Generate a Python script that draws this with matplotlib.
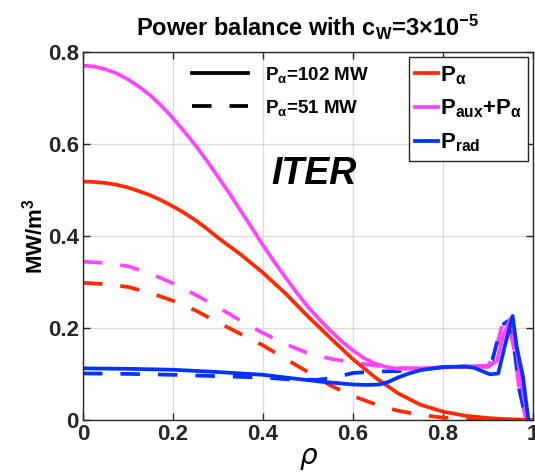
import matplotlib
matplotlib.use("Agg")
import matplotlib.pyplot as plt
from matplotlib.lines import Line2D

plt.rcParams['font.family'] = ['Liberation Sans', 'DejaVu Sans']
plt.rcParams['font.weight'] = 'bold'
plt.rcParams['mathtext.fontset'] = 'custom'
plt.rcParams['mathtext.rm'] = 'Liberation Sans:bold'
plt.rcParams['mathtext.bf'] = 'Liberation Sans:bold'
plt.rcParams['mathtext.it'] = 'Liberation Sans:bold:italic'
plt.rcParams['mathtext.default'] = 'bf'

RED = '#ff2a00'
MAG = '#ff44ff'
BLUE = '#0033ff'

# ---- data (rho, MW/m^3) ----
rho_pa_102 = [0, 0.025, 0.05, 0.075, 0.1, 0.125, 0.15, 0.175, 0.2, 0.225, 0.25, 0.275,
              0.3, 0.35, 0.4, 0.45, 0.5, 0.55, 0.6, 0.65, 0.7, 0.75, 0.8, 0.85, 0.9,
              0.95, 1.0]
pa_102 = [0.518, 0.517, 0.515, 0.511, 0.505, 0.497, 0.488, 0.477, 0.464, 0.450, 0.434,
          0.416, 0.396, 0.360, 0.320, 0.275, 0.225, 0.178, 0.132, 0.092, 0.058, 0.033,
          0.018, 0.009, 0.004, 0.001, 0.0]

rho_ptot_102 = [0, 0.025, 0.05, 0.075, 0.1, 0.125, 0.15, 0.175, 0.2, 0.225, 0.25, 0.275,
                0.3, 0.325, 0.35, 0.375, 0.4, 0.425, 0.45, 0.475, 0.5, 0.525, 0.55,
                0.575, 0.6, 0.625, 0.65, 0.675, 0.7, 0.75, 0.8, 0.85, 0.9, 0.92, 0.935,
                0.95, 0.96, 0.97, 0.98, 0.99]
ptot_102 = [0.770, 0.768, 0.762, 0.753, 0.740, 0.724, 0.705, 0.682, 0.656, 0.627, 0.597,
            0.564, 0.529, 0.493, 0.456, 0.418, 0.380, 0.344, 0.310, 0.277, 0.246, 0.219,
            0.194, 0.171, 0.151, 0.134, 0.122, 0.115, 0.111, 0.112, 0.114, 0.116, 0.115,
            0.128, 0.185, 0.220, 0.180, 0.110, 0.050, 0.0]

rho_prad_102 = [0, 0.1, 0.2, 0.3, 0.4, 0.46, 0.53, 0.6, 0.63, 0.66, 0.68, 0.7, 0.725,
                0.75, 0.8, 0.85, 0.87, 0.89, 0.905, 0.923, 0.94, 0.955, 0.964, 0.978,
                0.99]
prad_102 = [0.112, 0.111, 0.109, 0.104, 0.098, 0.091, 0.083, 0.077, 0.076, 0.077, 0.083,
            0.092, 0.101, 0.108, 0.115, 0.116, 0.113, 0.105, 0.099, 0.101, 0.170, 0.226,
            0.159, 0.094, 0.0]

rho_pa_51 = [0, 0.05, 0.1, 0.15, 0.2, 0.25, 0.3, 0.35, 0.4, 0.45, 0.5, 0.55, 0.6, 0.65,
             0.7, 0.75, 0.8, 0.9, 1.0]
pa_51 = [0.298, 0.295, 0.289, 0.276, 0.259, 0.238, 0.212, 0.187, 0.162, 0.133, 0.104,
         0.075, 0.052, 0.034, 0.020, 0.011, 0.005, 0.001, 0.0]

rho_ptot_51 = [0, 0.05, 0.1, 0.15, 0.2, 0.25, 0.3, 0.35, 0.4, 0.45, 0.5, 0.55, 0.6, 0.65,
               0.7, 0.75, 0.8, 0.85, 0.9, 0.915, 0.93, 0.945, 0.96, 0.97, 0.985]
ptot_51 = [0.344, 0.341, 0.334, 0.318, 0.297, 0.272, 0.245, 0.216, 0.189, 0.165, 0.145,
           0.133, 0.125, 0.118, 0.113, 0.112, 0.114, 0.116, 0.118, 0.140, 0.200, 0.215,
           0.145, 0.065, 0.0]

rho_prad_51 = [0, 0.1, 0.2, 0.3, 0.4, 0.46, 0.52, 0.56, 0.6, 0.65, 0.7, 0.75, 0.8, 0.85,
               0.89, 0.91, 0.93, 0.945, 0.96, 0.97, 0.985]
prad_51 = [0.101, 0.100, 0.098, 0.095, 0.092, 0.088, 0.087, 0.092, 0.102, 0.105, 0.106,
           0.110, 0.114, 0.116, 0.115, 0.130, 0.205, 0.215, 0.145, 0.065, 0.0]

xticks = [0, 0.2, 0.4, 0.6, 0.8, 1]
xticklabels = ['0', '0.2', '0.4', '0.6', '0.8', '1']
yticks = [0, 0.2, 0.4, 0.6, 0.8]
yticklabels = ['0', '0.2', '0.4', '0.6', '0.8']

fig = plt.figure(figsize=(5.35, 4.75), dpi=100)
ax = fig.add_axes([0.155, 0.116, 0.841, 0.775])

LW = 2.7
DASH = (5.2, 4.8)
ax.plot(rho_pa_51, pa_51, color=RED, lw=LW, dashes=DASH)
ax.plot(rho_ptot_51, ptot_51, color=MAG, lw=LW, dashes=DASH)
ax.plot(rho_prad_51, prad_51, color=BLUE, lw=LW, dashes=DASH)
ax.plot(rho_pa_102, pa_102, color=RED, lw=LW)
ax.plot(rho_ptot_102, ptot_102, color=MAG, lw=LW)
ax.plot(rho_prad_102, prad_102, color=BLUE, lw=LW)

ax.set_xlim(0, 1)
ax.set_ylim(0, 0.8)
ax.set_xticks(xticks)
ax.set_xticklabels(xticklabels)
ax.set_yticks(yticks)
ax.set_yticklabels(yticklabels)
ax.tick_params(direction='in', top=True, right=True, labelsize=16, length=5,
               width=1, color='#262626', labelcolor='#262626', pad=3)
for lab in ax.get_xticklabels() + ax.get_yticklabels():
    lab.set_fontweight('bold')
ax.grid(True, color='#dcdcdc', lw=1)
ax.set_axisbelow(True)
for s in ax.spines.values():
    s.set_color('#262626')
    s.set_linewidth(1)

ax.set_title(r'Power balance with c$_{\mathbf{W}}$=3$\times$10$^{\mathbf{-5}}$',
             fontsize=17, fontweight='bold', pad=11)
ax.set_ylabel(r'MW/m$^{\mathbf{3}}$', fontsize=16, fontweight='bold', labelpad=0)
ax.set_xlabel('ρ', fontsize=20, style='italic', fontweight='normal',
              family=['DejaVu Sans'], labelpad=-2)

ax.text(0.418, 0.64, 'ITER', transform=ax.transAxes, fontsize=27,
        fontweight='bold', style='italic', va='baseline')

# colour legend
h1 = [Line2D([], [], color=RED, lw=LW),
      Line2D([], [], color=MAG, lw=LW),
      Line2D([], [], color=BLUE, lw=LW)]
l1 = ['P$_{α}$', 'P$_{aux}$+P$_{α}$', 'P$_{rad}$']
leg1 = ax.legend(h1, l1, loc='upper right', bbox_to_anchor=(0.99, 0.985),
                 fontsize=16, handlelength=1.0, handletextpad=0.1,
                 labelspacing=0.5, borderpad=0.3, borderaxespad=0,
                 fancybox=False, framealpha=1, edgecolor='#262626')
leg1.get_frame().set_linewidth(1)
ax.add_artist(leg1)

# line style legend
h2 = [Line2D([], [], color='black', lw=LW),
      Line2D([], [], color='black', lw=LW, dashes=DASH)]
l2 = ['P$_{α}$=102 MW', 'P$_{α}$=51 MW']
ax.legend(h2, l2, loc='upper left', bbox_to_anchor=(0.225, 0.985),
          fontsize=13.5, handlelength=3.0, handletextpad=0.9,
          labelspacing=0.7, frameon=False, borderaxespad=0)

fig.savefig('out.png', dpi=100)
